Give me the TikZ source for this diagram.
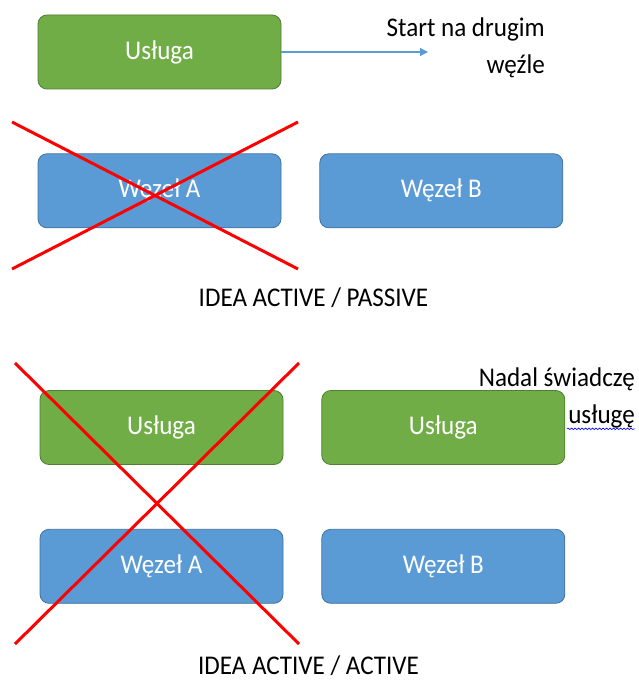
\documentclass[tikz,border=0pt]{standalone}
\usepackage{fontspec}
\setmainfont{Carlito}[FakeStretch=0.93]
\usepackage{xcolor}
\usetikzlibrary{arrows.meta, positioning, decorations.pathmorphing}
\definecolor{uslgreen}{HTML}{70AD47}
\definecolor{uslline}{HTML}{507E32}
\definecolor{wezblue}{HTML}{5B9BD5}
\definecolor{wezline}{HTML}{41719C}
\tikzset{%
	usl/.style={draw=uslline, fill=uslgreen, rectangle, rounded corners=9pt,%
		minimum width=243pt, minimum height=74pt, line width=0.8pt,%
		text=white, font=\fontsize{27}{32}\selectfont},
	wez/.style={draw=wezline, fill=wezblue, rectangle, rounded corners=9pt,%
		minimum width=243pt, minimum height=74pt, line width=0.8pt,%
		text=white, font=\fontsize{27}{32}\selectfont},
	cross/.style={draw=red, line width=3pt},
	sel/.style={-{Triangle[length=8pt, width=8pt]}, draw=wezblue, line width=1.2pt},
	textnode/.style={align=right, inner sep=0pt, font=\fontsize{27}{36.5}\selectfont},
	caption/.style={inner sep=0pt, font=\fontsize{27}{32}\selectfont}
}

\begin{document}
\begin{tikzpicture}[x=1pt, y=-1pt, node distance=64pt and 38pt]
	\useasboundingbox (0,0) rectangle (638,682);

	% active / passive
	\node[usl] (us1) at (159.5,52) {Usługa};
	\node[wez, below=of us1] (wa1) {Węzeł A};
	\node[wez, right=of wa1] (wb1) {Węzeł B};
	\coordinate (st) at (428,52);
	\node[textnode, anchor=base east] (start) at (545,73.5) {Start na drugim\\węźle};
	\node[caption, anchor=base] (idea1) at (313.5,306) {IDEA ACTIVE / PASSIVE};

	\draw[sel] (us1) to (st);

	\coordinate (c1a) at (12,122);
	\coordinate (c1b) at (298,269);
	\coordinate (c1c) at (12,269);
	\coordinate (c1d) at (298,122);
	\draw[cross] (c1a) -- (c1b);
	\draw[cross] (c1c) -- (c1d);

	% active / active
	\node[usl] (us2) at (161.5,427.5) {Usługa};
	\node[wez, below=of us2] (wa2) {Węzeł A};
	\node[usl, right=of us2] (us3) {Usługa};
	\node[wez, below=of us3] (wb2) {Węzeł B};
	\node[textnode, anchor=base east] (nadal) at (635,423) {Nadal świadczę\\usługę};
	\node[caption, anchor=base] (idea2) at (308.5,674.5) {IDEA ACTIVE / ACTIVE};

	\draw[decorate, decoration={snake, amplitude=0.8pt, segment length=3.5pt},%
		draw=blue, line width=0.6pt]%
		([xshift=-68pt, yshift=-1pt]nadal.south east) -- ([yshift=-1pt]nadal.south east);

	\coordinate (c2a) at (15,363);
	\coordinate (c2b) at (299,644);
	\coordinate (c2c) at (15,644);
	\coordinate (c2d) at (299,363);
	\draw[cross] (c2a) -- (c2b);
	\draw[cross] (c2c) -- (c2d);
\end{tikzpicture}
\end{document}
